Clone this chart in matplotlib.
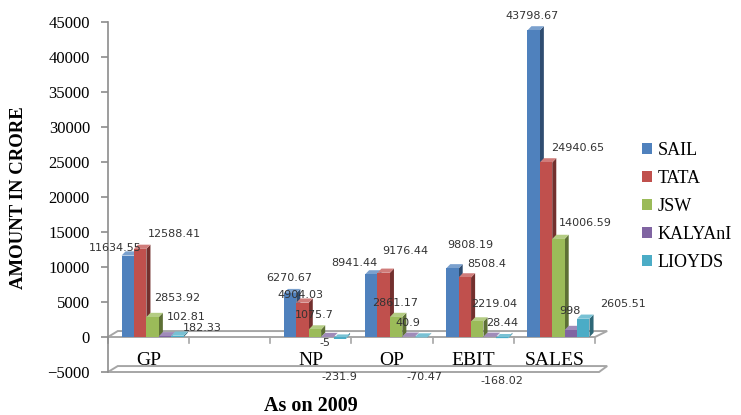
import matplotlib
matplotlib.use("Agg")
import matplotlib.pyplot as plt
from matplotlib.patches import Polygon, Patch
import numpy as np

categories = ["GP", "", "NP", "OP", "EBIT", "SALES"]
companies = ["SAIL", "TATA", "JSW", "KALYAnI", "LIOYDS"]

sail = [11634.55, None, 6270.67, 8941.44, 9808.19, 43798.67]
tata = [12588.41, None, 4904.03, 9176.44, 8508.4, 24940.65]
jsw = [2853.92, None, 1075.7, 2861.17, 2219.04, 14006.59]
kalyani = [102.81, None, -5, 40.9, 28.44, 998]
lioyds = [182.33, None, -231.9, -70.47, -168.02, 2605.51]

series = [sail, tata, jsw, kalyani, lioyds]
colors = ["#4F81BD", "#C0504D", "#9BBB59", "#8064A2", "#4BACC6"]

# where Excel put each data label, pixels from the bar's top centre
label_offsets = [
    [(-13, 8), None, (-1, 15), (-17, 11), (18, 23), (-2, 14)],
    [(34, 15), None, (-2, 8), (22, 22), (22, 13), (32, 14)],
    [(25, 19), None, (-1, 14), (-1, 14), (17, 17), (27, 16)],
    [(21, 19), None, (-2, -6), (-1, 14), (13, 14), (-1, 19)],
    [(25, 8), None, (0, -38), (4, -40), (0, -43), (40, 15)],
]

serif = "Liberation Serif"

fig = plt.figure(figsize=(7.41, 4.15), dpi=100)
ax = fig.add_axes([108 / 741, 43 / 415, 487 / 741, 350 / 415])
ax.set_xlim(0, 6)
ax.set_ylim(-5000, 45000)

bw = 0.153
start = 0.167
ddx = 0.05
ddy = 600


def shade(c, f):
    c = np.array(matplotlib.colors.to_rgb(c))
    if f < 1:
        return tuple(c * f)
    return tuple(c + (1 - c) * (f - 1))


# floors
floor_col = "#A6A6A6"
ax.add_patch(Polygon([(0, 0), (6.0, 0), (6.15, 850), (0.12, 850)],
                     closed=True, facecolor="white", edgecolor=floor_col,
                     lw=1.4, clip_on=False, zorder=1))
ax.add_patch(Polygon([(0, -5000), (6.05, -5000), (6.15, -4150), (0.12, -4150)],
                     closed=True, facecolor="white", edgecolor=floor_col,
                     lw=1.4, clip_on=False, zorder=1))
for s in range(7):
    ax.plot([s, s], [0, -850], color=floor_col, lw=1.2, clip_on=False, zorder=1)

for i, vals in enumerate(series):
    for s, v in enumerate(vals):
        if v is None:
            continue
        x0 = s + start + i * bw
        x1 = x0 + bw
        side = Polygon([(x1, 0), (x1 + ddx, ddy), (x1 + ddx, v + ddy), (x1, v)],
                       closed=True, facecolor=shade(colors[i], 0.6),
                       edgecolor="none", zorder=3 + i * 0.01)
        top = Polygon([(x0, v), (x0 + ddx, v + ddy), (x1 + ddx, v + ddy), (x1, v)],
                      closed=True, facecolor=shade(colors[i], 1.25),
                      edgecolor="none", zorder=3 + i * 0.01)
        ax.add_patch(side)
        ax.add_patch(top)
        ax.bar(x0, v, width=bw, align="edge", color=colors[i],
               edgecolor="none", zorder=3 + i * 0.01)
        dx, dy = label_offsets[i][s]
        ax.annotate(str(v), (x0 + bw / 2, v),
                    xytext=(dx, dy), textcoords="offset pixels",
                    ha="center", va="center", fontsize=8,
                    family="DejaVu Sans", color="#333333", zorder=10,
                    annotation_clip=False)

for s, c in enumerate(categories):
    ax.text(s + 0.5, -3300, c, ha="center", va="center",
            fontsize=14, family=serif, zorder=5)

for sp in ["top", "right", "bottom"]:
    ax.spines[sp].set_visible(False)
ax.spines["left"].set_color("#8C8C8C")
ax.spines["left"].set_linewidth(1.2)
ax.set_xticks([])
ax.set_yticks(np.arange(-5000, 45001, 5000))
ax.tick_params(axis="y", direction="out", length=5, width=1.2,
               color="#8C8C8C", pad=8, labelsize=12)
for t in ax.get_yticklabels():
    t.set_family(serif)

fig.text(19 / 741, 1 - 198 / 415, "AMOUNT IN CRORE", rotation=90,
         ha="center", va="center", fontsize=13.5, fontweight="bold", family=serif)
fig.text(311 / 741, 1 - 406 / 415, "As on 2009", ha="center", va="center",
         fontsize=14.5, fontweight="bold", family=serif)

handles = [Patch(facecolor=c, edgecolor="none") for c in colors]
fig.legend(handles, companies, loc="upper left",
           bbox_to_anchor=(626 / 741, 1 - 126 / 415), frameon=False,
           prop={"family": serif, "size": 13}, handlelength=0.55,
           handleheight=0.55, handletextpad=0.3, labelspacing=0.6)

fig.savefig("out.png", dpi=100)
